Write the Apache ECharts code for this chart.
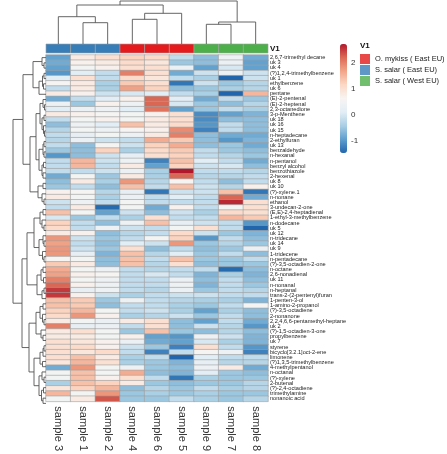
<!DOCTYPE html>
<html><head><meta charset="utf-8">
<script src="https://cdn.jsdelivr.net/npm/echarts@6/dist/echarts.min.js"></script>
<style>html,body{margin:0;padding:0;background:#fff}#c{width:447px;height:454px}</style>
</head><body><div id="c"></div>
<script>
const samples = ['sample 3','sample 1','sample 2','sample 4','sample 6','sample 5','sample 9','sample 7','sample 8'];
const sampleGroup = [1,1,1,0,0,0,2,2,2];
const groupNames = ['O. mykiss ( East EU)','S. salar ( East EU)','S. salar ( West EU)'];
const groupColors = ['#E41A1C','#377EB8','#4DAF4A'];
const compounds = ['2,6,7-trimethyl decane','uk 3','uk 4','(?)1,2,4-trimethylbenzene','uk 1','ethylbenzene','uk 6','pentane','(E)-2-pentenal','(E)-2-heptenal','2,3-octanedione','3-p-Menthene','uk 18','uk 16','uk 15','n-heptadecane','2-ethylfuran','uk 13','benzaldehyde','n-hexanal','n-pentanol','benzyl alcohol','benzothiazole','2-hexenal','uk 8','uk 10','(?)-xylene.1','n-nonane','ethanol','3-undecan-2-one','(E,E)-2,4-heptadienal','1-ethyl-3-methylbenzene','n-dodecane','uk 5','uk 12','n-tridecane','uk 14','uk 9','1-tridecene','n-pentadecane','(?)-3,5-octadien-2-one','n-octane','2,6-nonadienal','uk 11','n-nonanal','n-heptanal','trans-2-(2-pentenyl)furan','1-penten-3-ol','1-amino-2-propanol','(?)-3,5-octadiene','2-nonanone','2,2,4,6,6-pentamethyl-heptane','uk 2','(?)-1,5-octadien-3-one','propylbenzene','uk 7','styrene','bicyclo[3.2.1]oct-2-ene','limonene','(?)1,3,5-trimethylbenzene','4-methylpentanol','n-octanal','(?)-xylene','2-butenal','(?)-2,4-octadiene','trimethylamine','nonanoic acid'];
// scaled values per compound (row), columns in sample order above
const zscores = [
[-0.9,0.8,1.0,1.2,1.1,-0.2,-0.6,0.4,-0.8],
[-0.8,0.7,0.8,1.1,0.9,-0.5,-0.6,0.3,-0.9],
[-0.9,0.5,0.7,1.0,1.0,0.3,-0.9,0.0,-0.9],
[-1.0,0.1,-0.2,2.0,1.0,-0.8,-0.1,0.3,-0.1],
[0.1,1.0,-0.2,1.1,0.9,-0.2,-0.4,-1.5,-0.1],
[0.6,0.8,-0.4,1.3,1.0,-1.3,-0.1,-0.5,-0.3],
[-0.2,0.8,-0.4,1.7,1.2,-0.6,-0.5,-0.4,-0.3],
[0.8,0.7,-0.1,0.0,0.1,-0.2,-0.4,-1.5,1.5],
[-0.8,-0.2,0.1,0.7,2.2,0.1,-0.8,-0.2,-0.5],
[0.4,-0.5,0.7,0.4,2.2,0.0,-0.5,-0.6,-0.3],
[0.1,0.3,0.4,0.1,2.1,-0.9,-0.5,-0.2,-0.4],
[0.8,0.7,0.6,0.5,0.7,1.0,-1.1,-0.9,-0.7],
[-0.2,0.5,0.7,0.5,0.8,1.0,-1.1,-0.6,-0.6],
[-0.6,0.4,0.1,1.4,0.8,1.1,-1.0,-0.2,-0.6],
[-0.3,0.5,0.4,0.6,0.7,1.9,-1.2,-0.2,-0.6],
[-0.2,0.2,0.5,0.4,0.8,2.0,-0.6,-0.8,-0.8],
[-0.3,0.3,-0.1,-0.2,1.6,1.3,-0.6,-1.0,-0.7],
[-0.2,-0.6,0.6,-0.1,1.2,1.6,-0.6,-0.5,-0.8],
[-0.5,-0.6,1.2,-0.4,1.1,1.3,-0.2,-0.5,-0.6],
[-1.0,-0.6,-0.1,0.2,1.0,1.2,-0.2,-0.3,-0.5],
[-0.2,1.5,-0.1,0.4,-1.2,1.4,0.1,-0.2,-0.8],
[-0.2,1.5,-0.2,0.8,-0.9,1.2,-0.1,0.0,-0.6],
[-0.2,-0.2,-0.1,0.3,-0.4,2.7,-0.2,-0.2,-0.3],
[-0.8,0.5,-0.5,0.8,-0.4,2.2,-0.3,-0.3,-0.2],
[-0.6,0.8,-0.4,1.8,-0.3,0.6,-0.2,-0.6,-0.2],
[-0.5,-0.2,-0.6,1.4,-0.2,1.4,-0.1,-0.3,0.7],
[0.7,0.6,-0.3,0.2,-1.3,-0.1,-0.1,1.4,-1.3],
[0.8,0.5,-0.4,0.3,-0.2,0.1,-0.2,2.2,-0.8],
[-0.1,0.4,-0.2,0.5,-0.2,-0.2,-0.2,2.6,1.0],
[-0.2,0.8,-1.4,0.5,-0.8,0.7,-0.2,0.5,1.0],
[1.4,0.5,-0.9,-0.1,-0.6,-0.1,-0.4,1.1,1.0],
[0.0,-0.5,-0.2,-0.4,1.0,-0.2,-0.2,1.5,1.3],
[1.2,-0.2,-0.6,0.4,1.4,0.2,-0.1,-0.2,-1.0],
[1.1,-0.2,0.4,-0.1,-0.2,0.5,1.0,-0.2,-1.5],
[0.8,0.7,-0.6,-0.3,-0.2,1.1,-0.1,-0.5,-0.7],
[1.8,-0.1,-0.5,-0.2,0.5,1.2,-1.0,-0.2,-0.6],
[1.7,-0.2,-0.6,0.1,-0.1,1.8,-0.5,-0.3,-0.5],
[1.8,-0.1,-0.5,1.0,-0.6,-0.2,-0.6,-0.5,0.3],
[1.8,0.2,-0.7,1.4,-0.3,0.1,-0.5,-0.2,-0.6],
[0.6,0.5,-0.6,1.4,-0.2,1.4,-0.5,-0.5,-0.2],
[1.3,0.8,-0.6,1.4,-0.3,1.0,-0.6,-0.5,-0.5],
[1.6,0.5,0.4,-0.2,-0.3,-0.2,-0.2,-1.4,-0.6],
[1.7,0.7,0.6,-0.2,0.0,-0.2,-0.7,-0.4,-0.7],
[2.0,0.5,0.4,-0.2,-0.2,0.3,-0.6,-0.2,-0.6],
[2.2,0.7,0.4,-0.2,-0.2,0.4,-0.7,-0.2,-0.5],
[2.5,0.2,0.4,-0.2,-0.3,0.3,-0.5,-0.2,-0.3],
[2.5,0.7,-0.1,-0.4,-0.2,-0.1,-0.1,-0.2,-0.2],
[1.4,1.3,-0.5,0.4,-0.2,-0.3,-0.4,-0.4,-0.7],
[1.4,1.3,-0.6,-0.2,-0.2,-0.4,-0.5,-0.2,0.6],
[1.2,1.5,0.5,-0.2,-0.1,-0.4,-0.9,-0.4,-0.6],
[1.1,1.8,0.7,-0.4,-0.3,-0.1,-0.5,-0.2,-0.6],
[0.8,0.5,0.3,0.8,1.0,-0.6,-0.9,-0.2,-0.8],
[2.0,0.2,0.3,-0.2,1.0,-0.6,-0.1,-0.3,-1.0],
[0.8,1.0,0.5,-0.5,1.4,-0.5,-0.6,-0.3,-0.6],
[0.8,0.8,0.5,0.7,-0.9,-1.0,0.4,-0.1,-0.7],
[1.0,0.9,0.7,0.3,-0.8,-0.9,0.0,-0.4,-0.7],
[1.0,1.1,0.7,-0.1,-0.5,-1.2,1.0,-0.2,-1.0],
[1.0,0.9,1.1,-0.2,-1.2,-0.2,0.6,0.4,-1.2],
[1.0,1.4,0.8,-0.4,-0.2,-1.5,0.1,-0.2,-0.2],
[0.9,1.5,1.0,-0.4,-0.5,-0.7,0.2,-0.3,-0.3],
[-0.8,1.8,0.5,0.4,-0.5,-0.6,0.4,0.8,-0.8],
[0.5,1.4,0.5,1.6,-0.6,-0.7,0.1,-0.5,-0.6],
[0.5,1.4,0.7,1.0,-0.2,-1.3,-0.4,-0.5,-0.5],
[-0.4,1.4,1.2,0.8,-0.5,-0.6,-0.5,-0.5,-0.3],
[0.9,1.2,1.5,-0.6,-0.3,-0.5,-0.2,-0.4,-0.3],
[1.5,0.5,1.8,-0.5,-0.4,-0.5,-0.4,-0.5,-0.5],
[0.5,0.8,2.3,-0.5,-0.5,-0.2,-0.4,-0.5,-0.3]
];
// dendrograms: [height, left, right]; leaves are display indices
const colTree = [43,[39,[27.3,0,[21.3,1,2]],[30.7,[24.7,3,4],5]],[22,[19.7,6,7],8]];
const rowTree = [33,
 [23,
  [13,[4,0,[2,1,2]],[7,[3.5,[2,3,4],[2.5,5,6]],7]],
  [16,[10,[6,[3,8,[1.5,9,10]],[4,[2,11,12],[2.5,13,[1.5,14,15]]]],
          [7,[3,[2,16,17],[2,18,19]],[4,[2.5,20,21],[3,22,23]]]],
      [8,[3,24,25],[4,26,[2,27,28]]]]],
 [24,
  [19,[12,[6,[3,29,30],[4,31,[2,32,33]]],[7,[3,34,[2,35,36]],[3.5,37,[2,38,39]]]],
      [9,[5,[3,40,41],[2.5,42,43]],[4,[2,44,45],46]]],
  [17,[10,[6,[3,47,48],[3.5,49,[2,50,51]]],[5,52,[3,53,54]]],
      [12,[6,[3,[2,55,56],57],[3.5,58,59]],[7,[4,60,[2,61,62]],[4.5,[2.5,63,64],[3,65,66]]]]]]];
const scaleTicks = [-1,0,1,2];
const scaleMin = -1.45, scaleMax = 2.7;
const palette = ['#2166ac','#5e9fcd','#a9cfe5','#e3eef5','#f7f4f2','#fcd9c6','#f2a68a','#dc6a55','#b2182b'];

function segs(tree, out){
  if (typeof tree === 'number') return {p: tree, h: 0};
  const a = segs(tree[1], out), b = segs(tree[2], out), h = tree[0];
  out.push([a.p, a.h, a.p, h],[a.p, h, b.p, h],[b.p, h, b.p, b.h]);
  return {p: (a.p + b.p) / 2, h: h};
}
const colSegs = []; segs(colTree, colSegs);
const rowSegsRaw = []; segs(rowTree, rowSegsRaw);
const rowSegs = rowSegsRaw.map(s => [s[1], s[0], s[3], s[2]]);

const heatData = [];
zscores.forEach((row, r) => row.forEach((v, c) => heatData.push([c, r, v])));

function lineItem(params, api){
  const p1 = api.coord([api.value(0), api.value(1)]);
  const p2 = api.coord([api.value(2), api.value(3)]);
  return {type:'line', shape:{x1:p1[0],y1:p1[1],x2:p2[0],y2:p2[1]}, style:{stroke:'#555', lineWidth:0.9}};
}
const hidden = {show:false};
const FONT = 'Liberation Sans';
const chart = echarts.init(document.getElementById('c'), null, {renderer:'canvas'});
chart.setOption({
  animation:false,
  textStyle:{fontFamily:FONT},
  title:{text:'V1', left:360, top:42, padding:0, textStyle:{fontSize:8, fontWeight:'bold', color:'#111', fontFamily:FONT}},
  legend:{orient:'vertical', left:360, top:54, padding:0, itemGap:1, itemWidth:10, itemHeight:10, icon:'rect', selectedMode:false,
    data:groupNames, textStyle:{fontSize:7.5, color:'#222', fontFamily:FONT}},
  grid:[
    {left:46, top:55, width:222, height:351},
    {left:46, top:44, width:222, height:9},
    {left:46, top:0, width:222, height:44},
    {left:0, top:55, width:46, height:351},
    {left:340, top:44, width:7, height:109}
  ],
  xAxis:[
    {gridIndex:0, type:'category', data:samples, position:'bottom', axisLine:hidden, axisTick:hidden, splitLine:hidden,
      axisLabel:{rotate:-90, fontSize:11, color:'#333', margin:5, interval:0, fontFamily:FONT}},
    {gridIndex:1, type:'category', data:samples, show:false},
    {gridIndex:2, type:'value', min:-0.5, max:8.5, show:false},
    {gridIndex:3, type:'value', min:0, max:46, inverse:true, show:false},
    {gridIndex:4, type:'value', min:0, max:1, show:false}
  ],
  yAxis:[
    {gridIndex:0, type:'category', data:compounds, inverse:true, position:'right', axisLine:hidden, axisTick:hidden, splitLine:hidden,
      axisLabel:{fontSize:5.6, color:'#222', margin:2, interval:0, fontFamily:FONT}},
    {gridIndex:1, type:'category', data:['V1'], position:'right', axisLine:hidden, axisTick:hidden,
      axisLabel:{fontSize:8, fontWeight:'bold', color:'#111', margin:2, fontFamily:FONT}},
    {gridIndex:2, type:'value', min:0, max:44, show:false},
    {gridIndex:3, type:'value', min:-0.5, max:66.5, inverse:true, show:false},
    {gridIndex:4, type:'value', min:scaleMin, max:scaleMax, position:'right', axisLine:hidden, axisTick:hidden, splitLine:hidden,
      axisLabel:{customValues:scaleTicks, fontSize:8, color:'#333', margin:4, fontFamily:FONT}}
  ],
  visualMap:{type:'continuous', seriesIndex:0, min:scaleMin, max:scaleMax, calculable:false, showLabel:false, text:null,
    left:340, top:44, itemWidth:7, itemHeight:109, padding:0, realtime:false,
    inRange:{color:palette}},
  series:[
    {type:'heatmap', xAxisIndex:0, yAxisIndex:0, data:heatData, itemStyle:{borderColor:'#a0a0a0', borderWidth:0.6}, emphasis:{disabled:true}},
    {type:'custom', xAxisIndex:1, yAxisIndex:1, data:samples.map((s,i)=>[i,0,sampleGroup[i]]),
      renderItem:function(params, api){
        const c = api.coord([api.value(0), api.value(1)]);
        const sz = api.size([1,1]);
        return {type:'rect', shape:{x:c[0]-sz[0]/2, y:c[1]-sz[1]/2, width:sz[0], height:sz[1]},
          style:{fill:groupColors[api.value(2)], stroke:'#a0a0a0', lineWidth:0.6}};
      }},
    {type:'custom', xAxisIndex:2, yAxisIndex:2, data:colSegs, renderItem:lineItem, encode:{x:[0,2], y:[1,3]}},
    {type:'custom', xAxisIndex:3, yAxisIndex:3, data:rowSegs, renderItem:lineItem, encode:{x:[0,2], y:[1,3]}},
    ...groupNames.map((g,i)=>({type:'scatter', name:g, xAxisIndex:4, yAxisIndex:4, data:[], itemStyle:{color:groupColors[i]}}))
  ]
});
</script></body></html>
